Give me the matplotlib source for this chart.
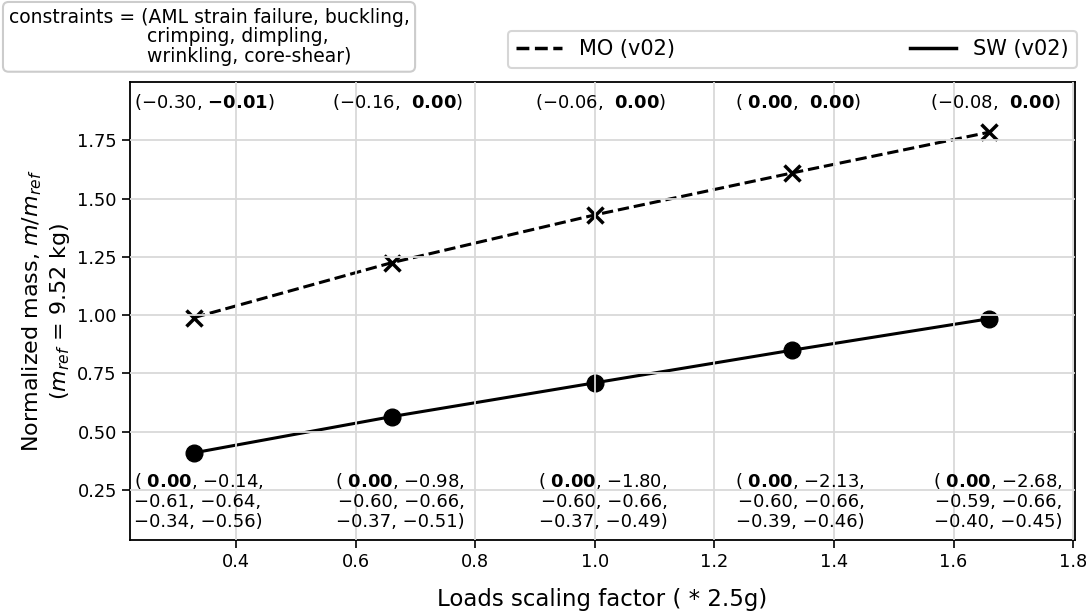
import matplotlib
matplotlib.use("Agg")
import matplotlib.pyplot as plt
import matplotlib.transforms as mtransforms
from matplotlib.lines import Line2D

# ---- data ----
load_factor = [0.33, 0.66, 1.0, 1.33, 1.66]
mass_mo = [0.99, 1.225, 1.43, 1.61, 1.785]
mass_sw = [0.41, 0.565, 0.71, 0.85, 0.985]

cons_mo = [(-0.30, -0.01), (-0.16, 0.00), (-0.06, 0.00), (0.00, 0.00), (-0.08, 0.00)]
cons_sw = [
    (0.00, -0.14, -0.61, -0.64, -0.34, -0.56),
    (0.00, -0.98, -0.60, -0.66, -0.37, -0.51),
    (0.00, -1.80, -0.60, -0.66, -0.37, -0.49),
    (0.00, -2.13, -0.60, -0.66, -0.39, -0.46),
    (0.00, -2.68, -0.59, -0.66, -0.40, -0.45),
]
label_mo = "MO (v02)"
label_sw = "SW (v02)"
constraints_text = ("constraints = (AML strain failure, buckling,\n"
                    "                       crimping, dimpling,\n"
                    "                       wrinkling, core-shear)")


def fmt(v):
    if abs(v) <= 0.01:
        if v < 0:
            return r"$\mathbf{-%.2f}$" % abs(v)
        return r" $\mathbf{%.2f}$" % abs(v)
    return ("\u2212" if v < 0 else " ") + "%.2f" % abs(v)


fig = plt.figure(figsize=(10.86, 6.15), dpi=100)
ax = fig.add_axes([130 / 1086, 75 / 615, 945 / 1086, 458 / 615])

ax.plot(load_factor, mass_mo, ls="--", color="black", lw=2.2,
        marker="x", markersize=11, markeredgewidth=2.5)
ax.plot(load_factor, mass_sw, ls="-", color="black", lw=2.2,
        marker="o", markersize=12)

ax.set_xlim(0.2227, 1.803)
ax.set_ylim(0.036, 2.0)
ax.set_yticks([0.25, 0.50, 0.75, 1.00, 1.25, 1.50, 1.75])
ax.set_xticks([0.4, 0.6, 0.8, 1.0, 1.2, 1.4, 1.6, 1.8])
ax.grid(True, color="#d9d9d9", lw=1.3)
ax.set_axisbelow(False)
ax.tick_params(labelsize=12.8, width=1.2, length=6)
for s in ax.spines.values():
    s.set_linewidth(1.3)

ax.set_xlabel("Loads scaling factor ( * 2.5g)", fontsize=16.5, labelpad=12)
ax.set_ylabel("Normalized mass, $m/m_{ref}$\n($m_{ref}$ = 9.52 kg)", fontsize=16)

y_top = 1.913
y_bot = 0.203
blend = mtransforms.blended_transform_factory(ax.transAxes, ax.transData)
for i, (x, c) in enumerate(zip(load_factor, cons_mo)):
    s = "(" + fmt(c[0]) + ", " + fmt(c[1]) + ")"
    if i == 0:
        ax.text(0.004, y_top, s, transform=blend, ha="left", va="center", fontsize=13)
    else:
        ax.annotate(s, xy=(x, y_top), xytext=(6, 0), textcoords="offset pixels",
                    ha="center", va="center", fontsize=13)

for i, (x, c) in enumerate(zip(load_factor, cons_sw)):
    s = ("(" + fmt(c[0]) + ", " + fmt(c[1]) + ",\n"
         + fmt(c[2]) + ", " + fmt(c[3]) + ",\n"
         + fmt(c[4]) + ", " + fmt(c[5]) + ")")
    if i == 0:
        ax.text(0.004, y_bot, s, transform=blend, ha="left", va="center",
                fontsize=13, multialignment="left", linespacing=1.15)
    else:
        ax.annotate(s, xy=(x, y_bot), xytext=(8, 0), textcoords="offset pixels",
                    ha="center", va="center", fontsize=13,
                    multialignment="right", linespacing=1.15)

handles = [Line2D([], [], ls="--", color="black", lw=2.5),
           Line2D([], [], ls="-", color="black", lw=2.5)]
leg = ax.legend(handles, [label_mo, label_sw], loc="lower left",
                bbox_to_anchor=(0.40, 1.031, 0.602, 0.09),
                mode="expand", ncol=2, borderaxespad=0, fontsize=15,
                frameon=True, handlelength=2.2)
leg.get_frame().set_edgecolor("#cccccc")
leg.get_frame().set_linewidth(1.5)

fig.text(8.6 / 1086, 1 - 7.6 / 615, constraints_text, ha="left", va="top",
         fontsize=13.5, linespacing=1.05,
         bbox=dict(boxstyle="round,pad=0.3", fc="white", ec="#cccccc", lw=1.5))

fig.savefig("out.png", dpi=100)
